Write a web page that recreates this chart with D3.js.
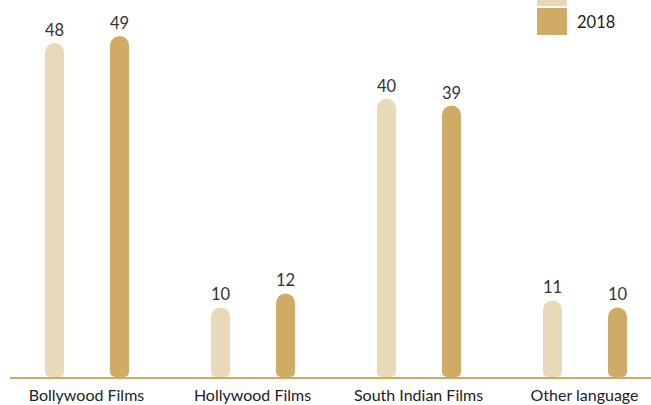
<!DOCTYPE html>
<html>
<head>
<meta charset="utf-8">
<script src="https://cdn.jsdelivr.net/npm/d3@7"></script>
<style>
  html, body { margin: 0; padding: 0; background: #fff; }
  svg { display: block; font-family: Lato, "Open Sans", sans-serif; }
</style>
</head>
<body>
<svg id="chart" width="651" height="405"></svg>
<script>
// Film preference by category, two survey years
const categories = ["Bollywood Films", "Hollywood Films", "South Indian Films", "Other language"];
const seriesNames = ["2017", "2018"];
const values2017 = [48, 10, 40, 11];
const values2018 = [49, 12, 39, 10];
const seriesColors = ["#E9D9B8", "#CFAB66"];

const svg = d3.select("#chart");
const W = 651;

const x0 = d3.scaleBand().domain(categories).range([3.5, 667.5]).padding(0);
const x1 = d3.scaleBand().domain(seriesNames).range([41.5, 125.5]).paddingInner(0.708).paddingOuter(0);
const y = d3.scaleLinear().domain([0, 49]).range([377, 36]);

const rows = categories.map((c, i) => ({
  category: c,
  values: [
    { key: "2017", value: values2017[i] },
    { key: "2018", value: values2018[i] }
  ]
}));

// Pill-shaped bar: fully rounded top, softer bottom corners
function pill(x, yTop, w, yBottom, rb) {
  const r = w / 2;
  return `M${x},${yBottom - rb}
    L${x},${yTop + r}
    A${r},${r} 0 0 1 ${x + w},${yTop + r}
    L${x + w},${yBottom - rb}
    A${rb},${rb} 0 0 1 ${x + w - rb},${yBottom}
    L${x + rb},${yBottom}
    A${rb},${rb} 0 0 1 ${x},${yBottom - rb}Z`;
}

const color = d3.scaleOrdinal().domain(seriesNames).range(seriesColors);

const groups = svg.selectAll("g.group")
  .data(rows)
  .join("g")
  .attr("class", "group")
  .attr("transform", d => `translate(${x0(d.category)},0)`);

groups.selectAll("path.bar")
  .data(d => d.values)
  .join("path")
  .attr("class", "bar")
  .attr("fill", d => color(d.key))
  .attr("d", d => pill(x1(d.key), y(d.value), x1.bandwidth(), y(0), 5));

groups.selectAll("text.val")
  .data(d => d.values)
  .join("text")
  .attr("class", "val")
  .attr("x", d => x1(d.key) + x1.bandwidth() / 2)
  .attr("y", d => y(d.value) - 7)
  .attr("text-anchor", "middle")
  .attr("font-size", 16.5)
  .attr("fill", "#333")
  .text(d => d.value);

// Baseline axis with category labels
const axis = d3.axisBottom(x0).tickSize(0).tickPadding(13);
const gAxis = svg.append("g")
  .attr("transform", `translate(0,${y(0)})`)
  .call(axis);
gAxis.select(".domain").remove();
gAxis.selectAll("text")
  .attr("font-family", "Lato, 'Open Sans', sans-serif")
  .attr("font-size", 16)
  .attr("fill", "#222");

svg.append("line")
  .attr("x1", 10).attr("x2", W)
  .attr("y1", y(0) + 1).attr("y2", y(0) + 1)
  .attr("stroke", "#CFAB66")
  .attr("stroke-width", 2);

// Legend
const legend = svg.append("g").attr("transform", "translate(537,-21)");
const li = legend.selectAll("g")
  .data(seriesNames)
  .join("g")
  .attr("transform", (d, i) => `translate(0,${i * 29})`);
li.append("rect")
  .attr("width", 30).attr("height", 27)
  .attr("fill", d => color(d));
li.append("text")
  .attr("x", 40).attr("y", 20)
  .attr("font-size", 16.5)
  .attr("fill", "#222")
  .text(d => d);
</script>
</body>
</html>
